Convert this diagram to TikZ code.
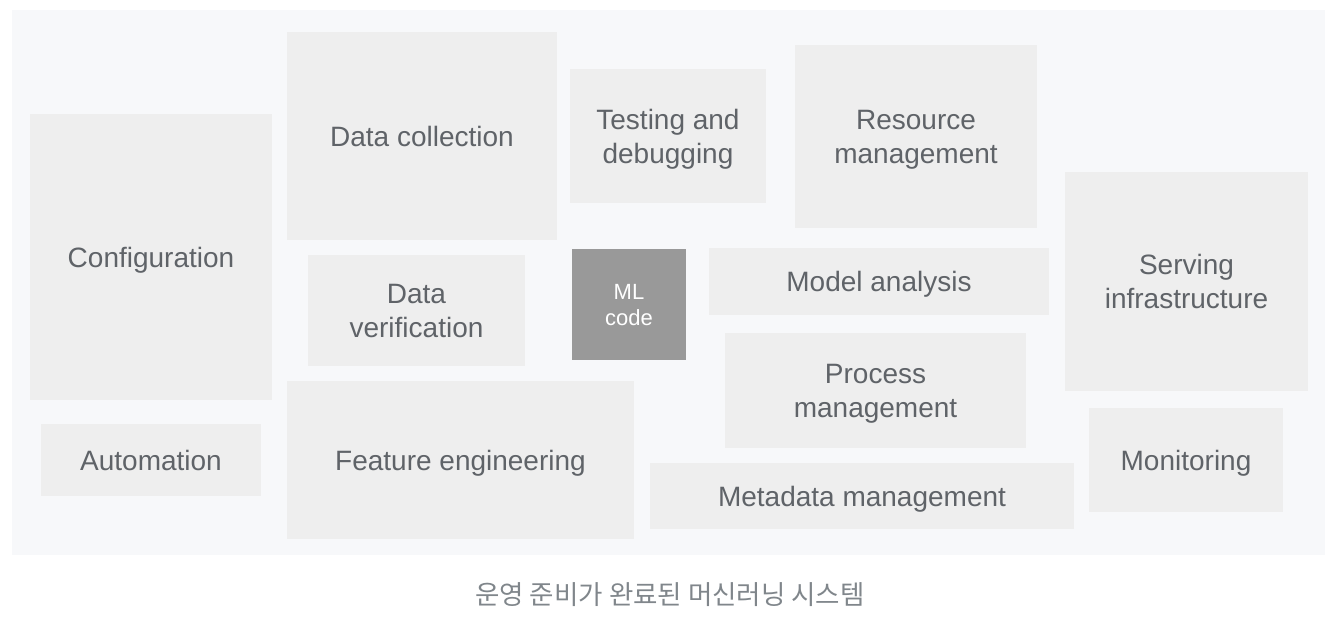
\documentclass[tikz,border=0pt]{standalone}
\usepackage{fontspec}
\setmainfont{Liberation Sans}
\newfontfamily\krfont{Noto Sans CJK KR}
\definecolor{panelbg}{HTML}{F7F8FA}
\definecolor{boxfill}{HTML}{EEEEEE}
\definecolor{mlfill}{HTML}{999999}
\definecolor{labeltxt}{HTML}{5F6368}
\definecolor{captiontxt}{HTML}{80868B}
\tikzset{
  part/.style={fill=boxfill, inner sep=0pt, align=center, text=labeltxt,
    text depth=0pt, font=\fontsize{28}{34}\selectfont},
  core/.style={part, fill=mlfill, text=white, font=\fontsize{22}{26}\selectfont}
}
\begin{document}
\begin{tikzpicture}[x=1pt,y=-1pt]
\useasboundingbox (0,0) rectangle (1338,622);
\fill[panelbg] (12,10) rectangle (1325,555);
% left column
\node[part, minimum width=242, minimum height=286] (config) at (151,257) {Configuration};
\node[part, minimum width=220, minimum height=72] (auto) at (151,460) {Automation};
% data side
\node[part, minimum width=270, minimum height=208] (collect) at (422,136) {Data collection};
\node[part, minimum width=217, minimum height=111] (verify) at (416.5,310.5) {Data\\verification};
\node[part, minimum width=347, minimum height=158] (feature) at (460.5,460) {Feature engineering};
% middle
\node[core, minimum width=114, minimum height=111] (ml) at (629,304.5) {ML\\code};
\node[part, minimum width=196, minimum height=134] (test) at (668,136) {Testing and\\debugging};
\node[part, minimum width=242, minimum height=183] (resource) at (916,136.5) {Resource\\management};
\node[part, minimum width=340, minimum height=67] (model) at (879,281.5) {Model analysis};
\node[part, minimum width=301, minimum height=115] (process) at (875.5,390.5) {Process\\management};
\node[part, minimum width=424, minimum height=66] (meta) at (862,496) {Metadata management};
% right column
\node[part, minimum width=243, minimum height=219] (serving) at (1186.5,281.5) {Serving\\infrastructure};
\node[part, minimum width=194, minimum height=104] (monitor) at (1186,460) {Monitoring};
% caption
\node[text=captiontxt, font=\krfont\fontsize{26.5}{30}\selectfont] (caption) at (670,595) {운영 준비가 완료된 머신러닝 시스템};
\end{tikzpicture}
\end{document}
